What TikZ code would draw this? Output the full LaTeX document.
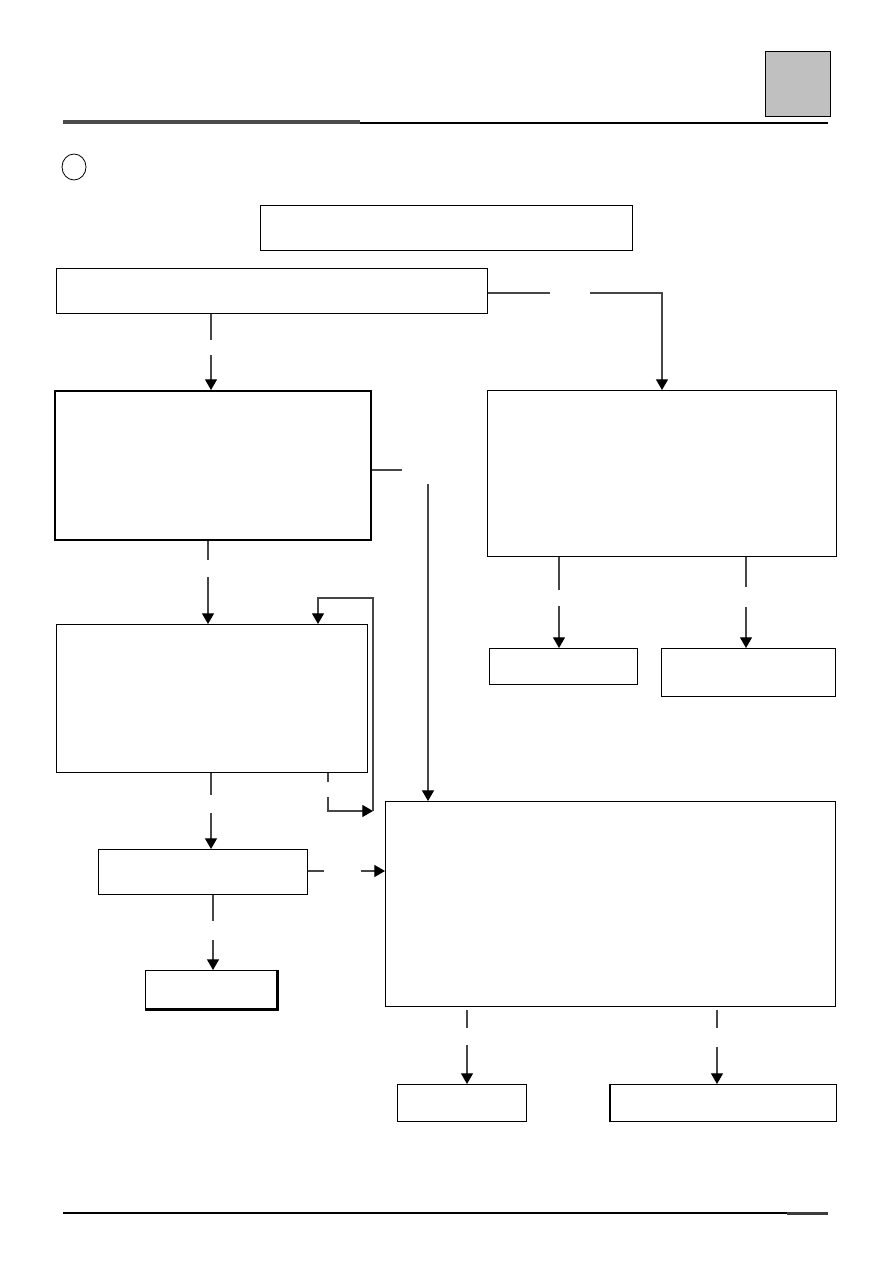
\documentclass[tikz,border=0pt]{standalone}
\usetikzlibrary{arrows.meta,shapes.geometric}
\tikzset{
  box/.style={draw=black,line width=1.1pt,fill=white,inner sep=0pt,anchor=north west},
  thickbox/.style={box,line width=1.6pt},
  conn/.style={draw={rgb,255:red,70;green,70;blue,70},line width=0.9pt},
  arr/.style={conn,-{Triangle[length=8pt,width=9pt,color=black]}},
}
\newcommand\mybox[6][box]{\node[#1,minimum width=(#5-#3)*0.75pt,minimum height=(#6-#4)*0.75pt] (#2) at (#3,#4) {};}
\begin{document}
\begin{tikzpicture}[x=0.75pt,y=-0.75pt]
\useasboundingbox (0,0) rectangle (893,1263);
% header
\node[draw=black,line width=1pt,fill={rgb,255:red,192;green,192;blue,192},inner sep=0pt,anchor=north west,minimum width=65*0.75pt,minimum height=65*0.75pt] (tab) at (765,51) {};
\draw[line width=2.4pt,draw={rgb,255:red,75;green,75;blue,75}] (63,122) -- (360,122);
\draw[line width=2pt,black] (360,123) -- (828,123);
\node[draw=black,line width=0.6pt,ellipse,minimum width=24*0.75pt,minimum height=26*0.75pt,inner sep=0pt] (num) at (74,167) {};
% boxes
\mybox{A}{260}{205}{632}{250}
\mybox{B}{56}{268}{487}{313}
\mybox[thickbox]{C}{54}{390}{370}{539}
\mybox{D}{487}{390}{836}{556}
\mybox{E}{56}{624}{367}{772}
\mybox{Fa}{489}{648}{637}{684}
\mybox{Fb}{661}{648}{835}{696}
\mybox{G}{385}{801}{835}{1006}
\mybox{H}{98}{849}{307}{894}
\mybox{I}{145}{970}{276}{1008}
\mybox{J}{397}{1084}{526}{1121}
\mybox{K}{610}{1084}{836}{1121}
\draw[line width=1.6pt] (I.north east) -- (I.south east) -- (I.south west);
\draw[line width=1.6pt] (K.north west) -- (K.south west);
% B -> C
\draw[conn] (211,0 |- B.south) -- (211,340);
\draw[arr] (211,355) -- (211,0 |- C.north);
% B -> D
\draw[conn] (B.east |- 0,293) -- (550,293);
\draw[arr] (590,293) -- (662,293) -- (662,0 |- D.north);
% C -> G
\coordinate (cg1) at (402,470);
\draw[conn] (C.east |- cg1) -- (cg1);
\draw[arr] (428,484) -- (428,0 |- G.north);
% C -> E
\draw[conn] (208,0 |- C.south) -- (208,560);
\draw[arr] (208,577) -- (208,0 |- E.north);
% E loop
\draw[conn] (328,0 |- E.south) -- (328,782);
\coordinate (lp) at (373,811);
\draw[arr] (328,797) -- (328,811) -- (lp);
\draw[arr] (lp) -- (373,598) -- (318,598) -- (318,0 |- E.north);
% D -> Fa, Fb
\draw[conn] (559,0 |- D.south) -- (559,590);
\draw[arr] (559,606) -- (559,0 |- Fa.north);
\draw[conn] (746,0 |- D.south) -- (746,587);
\draw[arr] (746,607) -- (746,0 |- Fb.north);
% E -> H
\draw[conn] (211,0 |- E.south) -- (211,795);
\draw[arr] (211,813) -- (211,0 |- H.north);
% H -> G
\draw[conn] (H.east |- 0,871) -- (324,871);
\draw[arr] (361,871) -- (G.west |- 0,871);
% H -> I
\draw[conn] (213,0 |- H.south) -- (213,921);
\draw[arr] (213,940) -- (213,0 |- I.north);
% G -> J, K
\draw[conn] (467,1010) -- (467,1028);
\draw[arr] (467,1045) -- (467,0 |- J.north);
\draw[conn] (717,1010) -- (717,1028);
\draw[arr] (717,1047) -- (717,0 |- K.north);
% footer
\draw[line width=2pt,black] (63,1213) -- (787,1213);
\draw[line width=2pt,draw={rgb,255:red,60;green,60;blue,60}] (787,1213.5) -- (828,1213.5);
\end{tikzpicture}
\end{document}
